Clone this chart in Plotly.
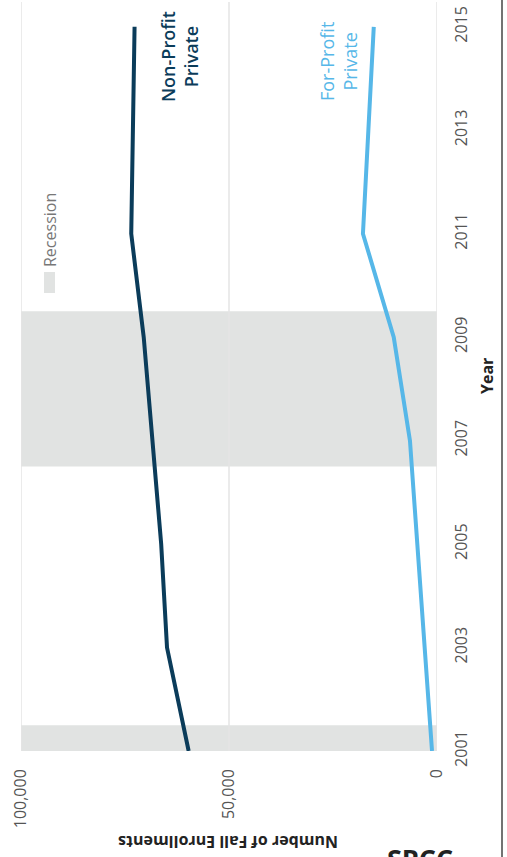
import plotly.graph_objects as go

# ---- data ----
years = [2001, 2003, 2005, 2007, 2009, 2011, 2013, 2015]
non_profit = [59700, 64900, 66300, 68400, 70500, 73500, 73200, 72700]
for_profit = [1200, 3000, 4800, 6500, 10400, 17800, 16500, 15200]
recession_starts = [2000.5, 2006.5]
recession_ends = [2001.5, 2009.5]
enroll_ticks = [0, 50000, 100000]
year_ticks = [2001, 2003, 2005, 2007, 2009, 2011, 2013, 2015]

NAVY = "#0b3c5a"
LIGHT = "#56b7e8"
REC = "#e1e3e2"
GRID = "#e4e4e4"
FONT = "Open Sans"

W, H = 507, 857
L, R, T, B = 21, 70, 2, 106
pw = W - L - R
ph = H - T - B


def px2paper_x(p):
    return (p - L) / pw


def px2paper_y(p):
    return (H - B - p) / ph


fig = go.Figure()
fig.add_trace(go.Scatter(x=non_profit, y=years, mode="lines",
                         line=dict(color=NAVY, width=4), hoverinfo="skip"))
fig.add_trace(go.Scatter(x=for_profit, y=years, mode="lines",
                         line=dict(color=LIGHT, width=4), hoverinfo="skip"))

shapes = []
for s, e in zip(recession_starts, recession_ends):
    shapes.append(dict(type="rect", xref="paper", yref="y", x0=0, x1=1,
                       y0=s, y1=e, fillcolor=REC, line=dict(width=0),
                       layer="below"))
for v in enroll_ticks:
    shapes.append(dict(type="line", xref="x", yref="paper", x0=v, x1=v,
                       y0=0, y1=1, line=dict(color=GRID, width=1.5),
                       layer="below"))
# legend swatch
shapes.append(dict(type="rect", xref="paper", yref="paper",
                   x0=px2paper_x(44), x1=px2paper_x(55),
                   y0=px2paper_y(293), y1=px2paper_y(272),
                   fillcolor=REC, line=dict(width=0)))
# right border line
shapes.append(dict(type="line", xref="paper", yref="paper",
                   x0=px2paper_x(502), x1=px2paper_x(502),
                   y0=px2paper_y(H), y1=px2paper_y(0),
                   line=dict(color="#444444", width=1.5)))


def ann(text, xp, yp, angle, font, xanchor="center", yanchor="middle",
        align="center"):
    return dict(text=text, xref="paper", yref="paper",
                x=px2paper_x(xp), y=px2paper_y(yp), textangle=angle,
                xanchor=xanchor, yanchor=yanchor, align=align,
                showarrow=False, font=font)


annotations = [
    ann("Non-Profit<br>Private", 180, 57, -90,
        dict(family=FONT, size=18, color=NAVY, weight=600)),
    ann("For-Profit<br>Private", 339, 62, -90,
        dict(family=FONT, size=18, color=LIGHT)),
    ann("Recession", 50, 230, -90,
        dict(family=FONT, size=16, color="#777777")),
    ann("Year", 487, 376, -90,
        dict(family=FONT, size=16, color="#222222", weight="bold")),
    ann("Number of Fall Enrollments", 228, 842, 180,
        dict(family=FONT, size=16, color="#222222", weight="bold")),
    ann("SPCC", 420, 838, 0,
        dict(family=FONT, size=27, color="#222222", weight="bold"),
        yanchor="top"),
]

fig.update_layout(
    width=W, height=H,
    margin=dict(l=L, r=R, t=T, b=B, pad=0),
    paper_bgcolor="white", plot_bgcolor="white",
    showlegend=False,
    shapes=shapes,
    annotations=annotations,
    xaxis=dict(range=[100000, 0], tickvals=enroll_ticks, tickformat=",",
               tickangle=-90, showgrid=False, zeroline=False,
               showline=False, ticks="", ticklabelstandoff=14,
               tickfont=dict(family=FONT, size=16, color="#555555"),
               fixedrange=True),
    yaxis=dict(range=[2001, 2015.48], tickvals=year_ticks, side="right",
               tickangle=-90, showgrid=False, zeroline=False,
               showline=False, ticks="", ticklabelstandoff=13,
               tickfont=dict(family=FONT, size=16, color="#555555"),
               fixedrange=True),
)

fig.write_html("out.html",
               config={"displayModeBar": False},
               post_script="document.body.style.margin='0';"
                           "document.body.style.overflow='hidden';")
